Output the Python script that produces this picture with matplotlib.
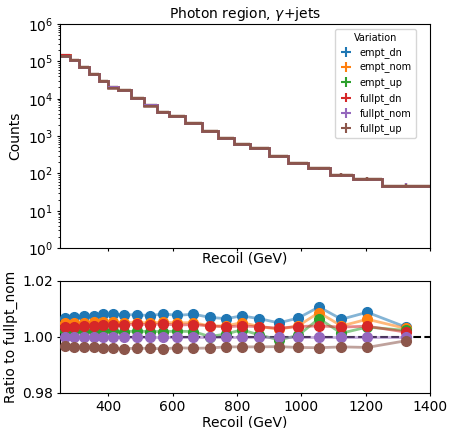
import matplotlib
matplotlib.use("Agg")
import matplotlib.pyplot as plt
import numpy as np

# recoil binning (GeV)
edges = [250, 280, 310, 340, 370, 400, 430, 470, 510, 550, 590, 640, 690,
         740, 790, 840, 900, 960, 1020, 1090, 1160, 1250, 1400]

# nominal counts (fullpt_nom)
counts_nom = [1.43e5, 1.1e5, 7.2e4, 4.6e4, 3.0e4, 2.0e4, 1.7e4, 1.03e4, 6.6e3,
              4.3e3, 3.5e3, 2.2e3, 1.4e3, 910, 600, 470, 300, 190, 140, 93, 71, 47]
counts_err = [400, 350, 280, 220, 180, 140, 130, 100, 80, 65, 60, 47, 37, 30, 25,
              22, 17, 14, 12, 10, 8.5, 7]

variations = ["empt_dn", "empt_nom", "empt_up", "fullpt_dn", "fullpt_nom", "fullpt_up"]

# ratio of each variation to fullpt_nom
ratios = {
    "empt_dn": [1.0067, 1.0070, 1.0073, 1.0076, 1.0081, 1.0082, 1.0079, 1.0079, 1.0076,
                1.0082, 1.0077, 1.0081, 1.0070, 1.0065, 1.0075, 1.0065, 1.0050, 1.0067,
                1.0107, 1.0063, 1.0088, 1.0035],
    "empt_nom": [1.0049, 1.0050, 1.0051, 1.0052, 1.0053, 1.0053, 1.0051, 1.0051, 1.0050,
                 1.0052, 1.0050, 1.0051, 1.0039, 1.0039, 1.0051, 1.0037, 1.0027, 1.0039,
                 1.0087, 1.0039, 1.0063, 1.0030],
    "empt_up": [1.0021, 1.0021, 1.0022, 1.0022, 1.0023, 1.0022, 1.0019, 1.0020, 1.0019,
                1.0019, 1.0020, 1.0019, 1.0001, 1.0010, 1.0025, 1.0007, 0.9989, 1.0005,
                1.0065, 1.0013, 1.0035, 1.0023],
    "fullpt_dn": [1.0035, 1.0037, 1.0039, 1.0040, 1.0042, 1.0043, 1.0044, 1.0045, 1.0044,
                  1.0046, 1.0042, 1.0044, 1.0039, 1.0036, 1.0039, 1.0036, 1.0031, 1.0037,
                  1.0039, 1.0035, 1.0038, 1.0017],
    "fullpt_nom": [1.0] * 22,
    "fullpt_up": [0.99655, 0.9963, 0.9963, 0.9962, 0.9961, 0.9960, 0.9958, 0.9959, 0.9959,
                  0.9957, 0.9961, 0.9959, 0.9960, 0.9964, 0.9964, 0.9964, 0.9965, 0.9962,
                  0.9961, 0.9964, 0.9962, 0.9986],
}

# statistical uncertainty on the ratio
ratio_err = [0.0016, 0.0004, 0.0003, 0.0003, 0.0003, 0.0003, 0.0003, 0.0003, 0.0003,
             0.0003, 0.0003, 0.0003, 0.0003, 0.0003, 0.0003, 0.0003, 0.0003, 0.0003,
             0.0004, 0.0003, 0.0004, 0.0004]

colors = ["tab:blue", "tab:orange", "tab:green", "tab:red", "tab:purple", "tab:brown"]

plt.rcParams["xtick.major.size"] = 2.5
plt.rcParams["ytick.major.size"] = 2.5
plt.rcParams["xtick.major.pad"] = 2.5
plt.rcParams["ytick.major.pad"] = 2.5
plt.rcParams["ytick.minor.size"] = 1.5

edges = np.array(edges)
centers = 0.5 * (edges[1:] + edges[:-1])
halfw = 0.5 * (edges[1:] - edges[:-1])

fig = plt.figure(figsize=(4.49, 4.28), dpi=100)
ax = fig.add_axes([0.1336, 0.42, 0.824, 0.524])
rax = fig.add_axes([0.1336, 0.0825, 0.824, 0.261])

handles = []
for var, c in zip(variations, colors):
    vals = np.array(counts_nom) * np.array(ratios[var])
    ax.stairs(vals, edges, color=c, lw=1.8, baseline=None)
    h = ax.errorbar(centers, vals, yerr=counts_err, xerr=halfw, fmt="none",
                    ecolor=c, elinewidth=1.5)
    handles.append(h)

ax.set_yscale("log")
ax.set_ylim(1, 1e6)
ax.set_xlim(250, 1400)
ax.set_ylabel("Counts")
ax.set_xlabel("Recoil (GeV)", labelpad=0)
ax.set_xticks([400, 600, 800, 1000, 1200, 1400])
ax.tick_params(axis="x", labelbottom=False)
ax.set_title("Photon region, $\\gamma$+jets", fontsize=10, pad=4)
ax.legend(handles, variations, title="Variation", fontsize=7, title_fontsize=7,
          loc="upper right", bbox_to_anchor=(0.962, 0.978), borderaxespad=0,
          handlelength=1.6, labelspacing=0.45, handletextpad=0.6)

rax.axhline(1.0, color="k", ls="--", lw=1.5, zorder=1)
for var, c in zip(variations, colors):
    r = ratios[var]
    rax.errorbar(centers, r, yerr=ratio_err, fmt="-", color=c, lw=2, alpha=0.55,
                 zorder=2)
    rax.plot(centers, r, "o", color=c, ms=7, zorder=3)

rax.set_xlim(250, 1400)
rax.set_ylim(0.98, 1.02)
rax.set_yticks([0.98, 1.00, 1.02])
rax.set_xticks([400, 600, 800, 1000, 1200, 1400])
rax.set_ylabel("Ratio to fullpt_nom", labelpad=3)
rax.set_xlabel("Recoil (GeV)", labelpad=1)

fig.savefig("out.png", dpi=100)
